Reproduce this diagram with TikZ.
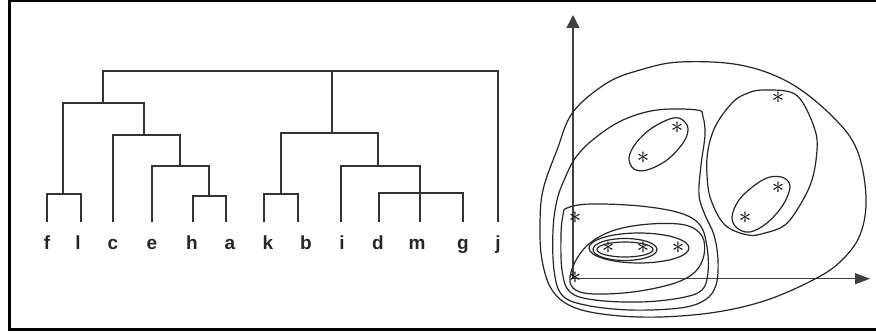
\documentclass[tikz,border=0pt]{standalone}
\usepackage{fontspec}
\setmainfont{Liberation Sans}
\usetikzlibrary{arrows.meta}
\begin{document}
\begin{tikzpicture}[x=1pt,y=-1pt,
  frameline/.style={line width=2.6pt,black},
  tree/.style={line width=1.3pt,black!80},
  leaf/.style={font=\fontsize{19}{19}\selectfont\bfseries,text=black!85,inner sep=0pt,anchor=base},
  axis/.style={line width=1.3pt,black!75},
  curve/.style={line width=1.2pt,black!85},
  star/.style={inner sep=0pt,font=\fontsize{24}{24}\selectfont}]
\useasboundingbox (0,0) rectangle (876,334);
\fill[white] (0,0) rectangle (876,334);
% frame
\draw[frameline] (890,1.2) -- (9.6,1.2) -- (9.6,329.4) -- (890,329.4);
% leaf labels
\foreach \n/\x in {f/47,l/78,c/113,e/152,h/192,a/230,k/268,b/306,i/342,d/378,m/417,g/463,j/498}
  \node[leaf] (L\n) at (\x,249) {\n};
% leaf tops
\foreach \n/\x in {f/47,l/81,c/113,e/152,h/193,a/226,k/264,b/298,i/341,d/379,m/420,g/463,j/498}
  \coordinate (T\n) at (\x,222);
% merge points
\coordinate (Mfl) at (63,194);
\coordinate (Mha) at (209,196);
\coordinate (Meha) at (180,166);
\coordinate (Mceha) at (144,135);
\coordinate (Mleft) at (103,103);
\coordinate (Mkb) at (281,194);
\coordinate (Mdmg) at (420,193);
\coordinate (Midmg) at (378,166);
\coordinate (Mright) at (332,133);
\coordinate (Mtop) at (332,71);
% tree lines
\draw[tree] (Tf) |- (Mfl) -| (Tl);
\draw[tree] (Th) |- (Mha) -| (Ta);
\draw[tree] (Te) |- (Meha) -| (Mha);
\draw[tree] (Tc) |- (Mceha) -| (Meha);
\draw[tree] (Mfl) |- (Mleft) -| (Mceha);
\draw[tree] (Tk) |- (Mkb) -| (Tb);
\draw[tree] (Td) |- (Mdmg) -| (Tg);
\draw[tree] (Tm) -- (Mdmg);
\draw[tree] (Ti) |- (Midmg) -| (Mdmg);
\draw[tree] (Mkb) |- (Mright) -| (Midmg);
\draw[tree] (Mright) -- (Mtop);
\draw[tree] (Mleft) |- (Mtop) -| (Tj);
% axes
\coordinate (orig) at (573,278.7);
\coordinate (ytip) at (573,15);
\coordinate (xtip) at (870,278.7);
\draw[axis,-{Triangle[length=13pt,width=13pt]}] (orig) -- (ytip);
\draw[axis,-{Triangle[length=15pt,width=11pt]}] (orig) -- (xtip);
% stars
\foreach \k/\x/\y in {1/778/98,2/677/128,3/643/158,4/778/188,5/745/218,6/575/218,7/608/248,8/643/248,9/678/248,10/575/278}
  \node[star] (s\k) at (\x,\y) {$\ast$};
% contours
\draw[curve] plot[smooth cycle,tension=0.6] coordinates {(680,62) (740,65) (790,83) (833,117) (857,150) (866,197) (860,235) (840,262) (813,280) (767,300) (717,312) (660,317) (610,315) (573,307) (552,290) (542,260) (540,225) (543,190) (557,150) (573,112) (607,83) (640,70)};
\draw[curve] plot[smooth cycle,tension=0.6] coordinates {(763,90) (790,92) (803,103) (815,130) (817,150) (812,180) (800,205) (785,225) (765,233) (748,235) (725,225) (711,200) (707,175) (708,150) (716,125) (733,102) (748,93)};
\draw[curve] plot[smooth cycle,tension=0.6] coordinates {(673,118) (684,121) (688,130) (683,143) (667,160) (647,170) (634,169) (629,158) (636,143) (652,128)};
\draw[curve] plot[smooth cycle,tension=0.6] coordinates {(770,177) (784,178) (790,187) (783,205) (767,223) (750,232) (737,228) (732,217) (739,200) (755,185)};
\draw[curve] plot[smooth cycle,tension=0.6] coordinates {(697,110) (703,117) (705,135) (701,165) (699,195) (705,215) (714,235) (718,260) (716,285) (705,300) (680,308) (630,310) (585,305) (562,295) (554,270) (553,230) (557,200) (565,178) (576,157) (595,138) (623,120) (657,110)};
\draw[curve] plot[smooth cycle,tension=0.6] coordinates {(567,208) (590,204) (640,206) (680,213) (700,225) (707,247) (708,272) (702,290) (680,298) (640,302) (595,300) (570,292) (562,270) (561,235) (563,215)};
\draw[curve] plot[smooth cycle,tension=0.6] coordinates {(570,282) (575,262) (590,243) (615,230) (650,224) (685,225) (702,236) (704,255) (695,272) (675,283) (640,291) (605,294) (580,292)};
\draw[curve] (639,248) ellipse [x radius=50,y radius=15];
\draw[curve] (625,249.5) ellipse [x radius=32,y radius=11];
\draw[curve] (625,249.5) ellipse [x radius=28,y radius=7.5];
\end{tikzpicture}
\end{document}
